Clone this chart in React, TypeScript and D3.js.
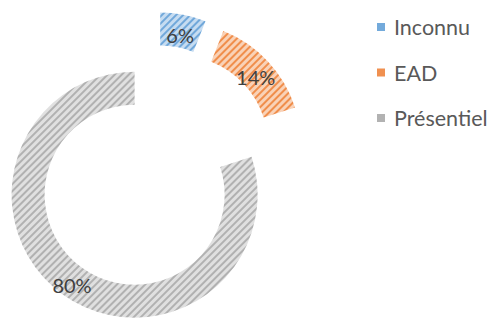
import * as d3 from "d3";
import { useEffect, useRef } from "react";

const width = 494;
const height = 318;

// data
const categories = ["Inconnu", "EAD", "Présentiel"];
const values = [6, 14, 80];
const labels = ["6%", "14%", "80%"];
const colors = ["#5B9BD5", "#ED7D31", "#A5A5A5"];

const center = { x: 154, y: 168 };
const outerR = 123;
const innerR = 90;
const explode = 33;
const font = "Lato, 'Open Sans', sans-serif";

export default function App() {
  const svgRef = useRef<SVGSVGElement>(null);

  useEffect(() => {
    const svg = d3.select(svgRef.current);
    svg.selectAll("*").remove();

    // hatch patterns (upward diagonal)
    const defs = svg.append("defs");
    colors.forEach((c, i) => {
      const p = defs
        .append("pattern")
        .attr("id", `hatch${i}`)
        .attr("patternUnits", "userSpaceOnUse")
        .attr("width", 5)
        .attr("height", 5)
        .attr("patternTransform", "rotate(45)");
      p.append("rect").attr("width", 5).attr("height", 5).attr("fill", "#fff");
      p.append("rect").attr("width", 5).attr("height", 5).attr("fill", c).attr("opacity", 0.35);
      p.append("rect").attr("width", 2).attr("height", 5).attr("fill", c).attr("opacity", 0.8);
    });

    const pie = d3.pie<number>().sort(null).value(d => d);
    const arcs = pie(values);
    const arc = d3.arc<d3.PieArcDatum<number>>().innerRadius(innerR).outerRadius(outerR);

    const g = svg.append("g").attr("transform", `translate(${center.x},${center.y})`);

    const slice = g
      .selectAll(".slice")
      .data(arcs)
      .enter()
      .append("g")
      .attr("class", "slice")
      .attr("transform", d => {
        const mid = (d.startAngle + d.endAngle) / 2;
        return `translate(${explode * Math.sin(mid)},${-explode * Math.cos(mid)})`;
      });

    slice
      .append("path")
      .attr("d", arc)
      .attr("fill", (d, i) => `url(#hatch${i})`);

    slice
      .append("text")
      .attr("x", d => arc.centroid(d)[0])
      .attr("y", d => arc.centroid(d)[1] + 4)
      .attr("text-anchor", "middle")
      .attr("dominant-baseline", "central")
      .style("font-family", font)
      .style("font-size", "20px")
      .style("fill", "#404040")
      .text((d, i) => labels[i]);

    // legend
    const legend = svg.append("g").attr("transform", "translate(377,27)");
    const item = legend
      .selectAll(".item")
      .data(categories)
      .enter()
      .append("g")
      .attr("transform", (d, i) => `translate(0,${i * 45.5})`);
    item
      .append("rect")
      .attr("x", 0)
      .attr("y", -4)
      .attr("width", 8)
      .attr("height", 8)
      .attr("fill", (d, i) => colors[i])
      .attr("opacity", 0.85);
    item
      .append("text")
      .attr("x", 17)
      .attr("y", 0)
      .attr("dominant-baseline", "central")
      .style("font-family", font)
      .style("font-size", "21.5px")
      .style("fill", "#595959")
      .text(d => d);
  }, []);

  return (
    <div style={{ position: "absolute", left: 0, top: 0 }}>
      <svg ref={svgRef} width={width} height={height}></svg>
    </div>
  );
}
